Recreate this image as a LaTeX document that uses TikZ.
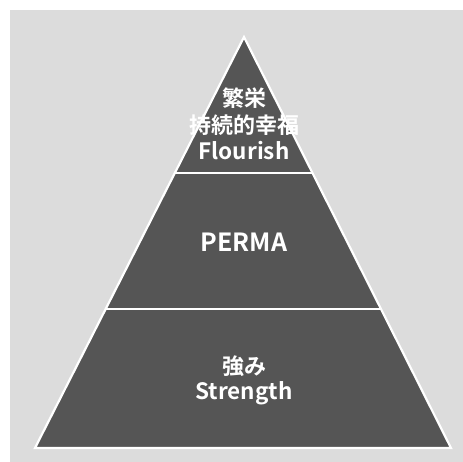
\documentclass[tikz,border=0pt]{standalone}
\usepackage{fontspec}
\setmainfont{Noto Sans CJK JP}[BoldFont={Noto Sans CJK JP Bold}]
\usetikzlibrary{calc}
\definecolor{bgcol}{HTML}{DCDCDC}
\definecolor{pyrcol}{HTML}{555555}
\tikzset{
  band/.style={fill=pyrcol, draw=white, line width=2.2pt, line join=miter},
  divider/.style={draw=white, line width=2.6pt},
  lbl/.style={inner sep=0pt, text=white, font=\bfseries\fontsize{22.5}{25}\selectfont},
  jlbl/.style={inner sep=0pt, text=white, font=\bfseries\fontsize{22}{24}\selectfont},
  blbl/.style={inner sep=0pt, text=white, font=\bfseries\fontsize{25}{27}\selectfont}
}
\begin{document}
\begin{tikzpicture}[x=1pt,y=-1pt]
\useasboundingbox (0,0) rectangle (463,462);
\fill[bgcol] (10,10) rectangle (463,462);
\coordinate (A) at (244,37);
\coordinate (BL) at (35,448);
\coordinate (BR) at (451,448);
\coordinate (L1) at ($(A)!0.3309!(BL)$);
\coordinate (R1) at ($(A)!0.3309!(BR)$);
\coordinate (L2) at ($(A)!0.6618!(BL)$);
\coordinate (R2) at ($(A)!0.6618!(BR)$);
\path[band] (A) -- (BR) -- (BL) -- cycle;
\draw[divider] (L1) -- (R1);
\draw[divider] (L2) -- (R2);
\node[jlbl] (t1) at (244,98) {繁栄};
\node[jlbl] (t2) at (244,125) {持続的幸福};
\node[lbl] (t3) at (244,151) {Flourish};
\node[blbl] (t4) at (244,242) {PERMA};
\node[jlbl] (t5) at (244,366) {強み};
\node[lbl] (t6) at (244,393) {Strength};
\end{tikzpicture}
\end{document}
